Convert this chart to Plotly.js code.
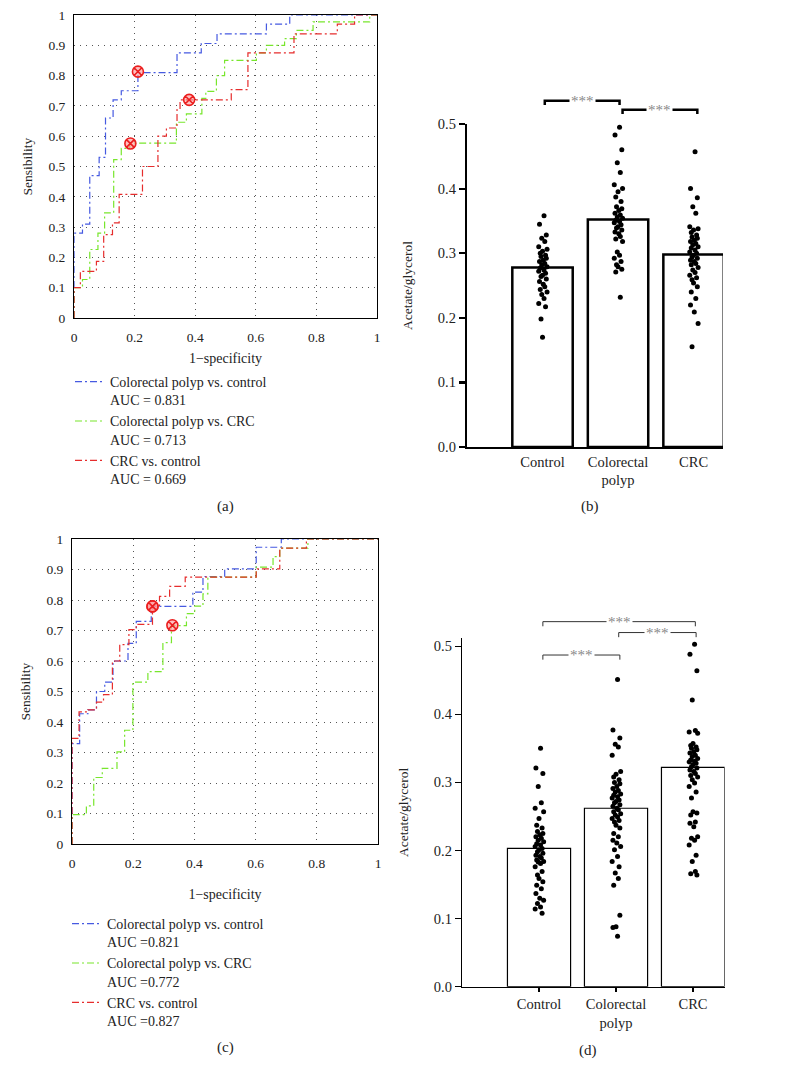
<!DOCTYPE html>
<html>
<head>
<meta charset="utf-8">
<script src="https://cdn.plot.ly/plotly-3.0.1.min.js"></script>
<style>
  html, body { margin: 0; padding: 0; background: #fff; }
  #chart { width: 785px; height: 1086px; }
</style>
</head>
<body>
<div id="chart"></div>
<script>
// ---- ROC (a) ----
const rocA_blue_x = [0, 0, 0.028, 0.052, 0.083, 0.104, 0.129, 0.156, 0.211, 0.34, 0.42, 0.472, 0.635, 0.712, 1];
const rocA_blue_y = [0, 0.28, 0.31, 0.47, 0.53, 0.66, 0.72, 0.75, 0.81, 0.875, 0.906, 0.938, 0.97, 1, 1];
const rocA_green_x = [0, 0, 0.028, 0.052, 0.079, 0.101, 0.131, 0.156, 0.184, 0.338, 0.371, 0.422, 0.435, 0.47, 0.497, 0.602, 0.635, 0.695, 0.734, 0.789, 0.976, 1];
const rocA_green_y = [0, 0.1, 0.127, 0.226, 0.28, 0.347, 0.523, 0.56, 0.577, 0.646, 0.674, 0.725, 0.748, 0.8, 0.85, 0.875, 0.9, 0.922, 0.949, 0.977, 1, 1];
const rocA_red_x = [0, 0, 0.021, 0.074, 0.098, 0.127, 0.149, 0.226, 0.277, 0.305, 0.34, 0.35, 0.519, 0.574, 0.726, 0.869, 0.926, 1];
const rocA_red_y = [0, 0.1, 0.154, 0.187, 0.275, 0.314, 0.408, 0.5, 0.6, 0.627, 0.688, 0.72, 0.754, 0.875, 0.938, 0.97, 1, 1];
const cutA_x = [0.211, 0.186, 0.38];
const cutA_y = [0.813, 0.576, 0.72];
const namesA = ['Colorectal polyp vs. control<br>AUC = 0.831', 'Colorectal polyp vs. CRC<br>AUC = 0.713', 'CRC vs. control<br>AUC = 0.669'];

// ---- ROC (c) ----
const rocC_blue_x = [0, 0, 0.025, 0.052, 0.08, 0.107, 0.134, 0.183, 0.21, 0.259, 0.395, 0.428, 0.499, 0.602, 0.684, 1];
const rocC_blue_y = [0, 0.329, 0.427, 0.44, 0.5, 0.531, 0.6, 0.658, 0.73, 0.779, 0.826, 0.877, 0.902, 0.973, 1, 1];
const rocC_green_x = [0, 0, 0.047, 0.071, 0.099, 0.147, 0.172, 0.199, 0.248, 0.297, 0.325, 0.374, 0.401, 0.428, 0.444, 0.602, 0.657, 0.679, 0.771, 1];
const rocC_green_y = [0, 0.096, 0.125, 0.218, 0.248, 0.302, 0.373, 0.531, 0.565, 0.66, 0.716, 0.755, 0.78, 0.82, 0.875, 0.908, 0.942, 0.97, 1, 1];
const rocC_red_x = [0, 0, 0.023, 0.052, 0.08, 0.103, 0.132, 0.156, 0.186, 0.21, 0.263, 0.286, 0.319, 0.37, 0.602, 0.679, 0.766, 1];
const rocC_red_y = [0, 0.346, 0.433, 0.44, 0.465, 0.49, 0.6, 0.654, 0.703, 0.72, 0.782, 0.812, 0.845, 0.875, 0.902, 0.97, 1, 1];
const cutC_x = [0.263, 0.263, 0.328];
const cutC_y = [0.779, 0.779, 0.717];
const namesC = ['Colorectal polyp vs. control<br>AUC =0.821', 'Colorectal polyp vs. CRC<br>AUC =0.772', 'CRC vs. control<br>AUC =0.827'];

// ---- bar + dots (b), (d) ----
const categories = ['Control', 'Colorectal<br>polyp', 'CRC'];
const barB = [0.278, 0.352, 0.298];
const barD = [0.203, 0.262, 0.322];

const ctrlB = [0.358, 0.345, 0.328, 0.323, 0.318, 0.310, 0.306, 0.303, 0.300, 0.297, 0.295, 0.292, 0.289, 0.287, 0.284, 0.282, 0.279, 0.277, 0.274, 0.272, 0.269, 0.266, 0.264, 0.260, 0.256, 0.252, 0.248, 0.244, 0.240, 0.236, 0.230, 0.222, 0.217, 0.198, 0.170];
const polypB = [0.495, 0.483, 0.460, 0.440, 0.425, 0.406, 0.400, 0.395, 0.387, 0.380, 0.372, 0.369, 0.366, 0.362, 0.359, 0.356, 0.354, 0.351, 0.349, 0.347, 0.344, 0.341, 0.339, 0.336, 0.333, 0.330, 0.326, 0.322, 0.318, 0.302, 0.297, 0.292, 0.287, 0.282, 0.279, 0.275, 0.271, 0.232];
const crcB = [0.457, 0.400, 0.386, 0.372, 0.362, 0.341, 0.338, 0.336, 0.332, 0.328, 0.325, 0.323, 0.320, 0.318, 0.315, 0.313, 0.310, 0.308, 0.305, 0.302, 0.300, 0.297, 0.294, 0.292, 0.289, 0.287, 0.284, 0.282, 0.278, 0.274, 0.270, 0.266, 0.262, 0.259, 0.254, 0.248, 0.240, 0.230, 0.220, 0.209, 0.191, 0.155];

const ctrlD = [0.350, 0.321, 0.313, 0.294, 0.270, 0.262, 0.257, 0.247, 0.237, 0.233, 0.228, 0.225, 0.223, 0.220, 0.218, 0.215, 0.213, 0.210, 0.208, 0.206, 0.203, 0.201, 0.198, 0.196, 0.193, 0.191, 0.189, 0.186, 0.184, 0.183, 0.181, 0.176, 0.169, 0.164, 0.159, 0.154, 0.149, 0.144, 0.137, 0.130, 0.127, 0.122, 0.117, 0.114, 0.108];
const polypD = [0.451, 0.377, 0.365, 0.356, 0.352, 0.340, 0.316, 0.312, 0.308, 0.304, 0.300, 0.298, 0.294, 0.291, 0.288, 0.286, 0.283, 0.281, 0.279, 0.277, 0.274, 0.272, 0.270, 0.267, 0.265, 0.262, 0.260, 0.257, 0.254, 0.252, 0.249, 0.247, 0.244, 0.242, 0.237, 0.233, 0.225, 0.220, 0.215, 0.211, 0.206, 0.201, 0.191, 0.184, 0.176, 0.167, 0.159, 0.149, 0.105, 0.088, 0.087, 0.074];
const crcD = [0.503, 0.488, 0.464, 0.421, 0.376, 0.374, 0.372, 0.357, 0.354, 0.352, 0.350, 0.348, 0.345, 0.343, 0.340, 0.338, 0.335, 0.333, 0.331, 0.330, 0.328, 0.326, 0.323, 0.321, 0.318, 0.316, 0.313, 0.310, 0.308, 0.304, 0.299, 0.294, 0.286, 0.277, 0.257, 0.255, 0.252, 0.242, 0.240, 0.235, 0.220, 0.218, 0.215, 0.208, 0.193, 0.184, 0.169, 0.166, 0.164];

// horizontal scatter of the dots around the category centre (category units)
const jitter = [0.02, -0.04, 0.05, -0.01, 0.03, -0.05, 0.06, 0.0, -0.03, 0.04,
  -0.02, 0.05, 0.01, -0.04, 0.03, -0.01, 0.06, -0.03, 0.02, -0.05,
  0.04, 0.0, -0.02, 0.05, -0.04, 0.01, 0.03, -0.03, 0.06, -0.01,
  0.02, -0.05, 0.04, -0.02, 0.0, 0.05, -0.03, 0.03, -0.04, 0.01,
  0.06, -0.02, 0.02, -0.05, 0.04, -0.01, 0.03, -0.03, 0.05, 0.0,
  -0.04, 0.02];

// significance brackets: left end, right end, height
const sigB_left = [0.03, 1.06], sigB_right = [1.02, 2.05], sigB_y = [0.536, 0.522];
const sigD_left = [0.05, 1.035, 0.05], sigD_right = [2.03, 2.04, 1.05], sigD_y = [0.536, 0.520, 0.487];

const serif = '"Liberation Serif", "DejaVu Serif", serif';
const W = 785, H = 1086;
const px = v => v / W;
const py = v => 1 - v / H;

const colBlue = 'rgb(70,90,225)', colGreen = 'rgb(120,230,45)', colRed = 'rgb(230,45,45)';
const rocDash = '7px,3px,2px,3px';

const traces = [];

function addRoc(xs, ys, names, cutX, cutY, xa, ya, legend) {
    const cols = [colBlue, colGreen, colRed];
    xs.forEach((x, i) => {
        traces.push({
            x: x, y: ys[i], xaxis: xa, yaxis: ya, type: 'scatter', mode: 'lines',
            line: { shape: 'hv', color: cols[i], width: 1.2, dash: rocDash },
            name: names[i], legend: legend, legendgroup: legend + i
        });
    });
    // cut-off points
    traces.push({
        x: cutX, y: cutY, xaxis: xa, yaxis: ya, type: 'scatter', mode: 'markers',
        marker: { symbol: 'circle-x', size: 11, color: 'rgba(255,150,150,0.6)', line: { color: 'rgb(235,30,30)', width: 1.6 } },
        showlegend: false, cliponaxis: false
    });
}

function addDots(groups, xa, ya) {
    groups.forEach((vals, g) => {
        traces.push({
            x: vals.map((v, i) => g + jitter[i % jitter.length]), y: vals,
            xaxis: xa, yaxis: ya, type: 'scatter', mode: 'markers',
            marker: { color: 'black', size: 5 }, showlegend: false, cliponaxis: false
        });
    });
}

addRoc([rocA_blue_x, rocA_green_x, rocA_red_x], [rocA_blue_y, rocA_green_y, rocA_red_y], namesA, cutA_x, cutA_y, 'x', 'y', 'legend');
addRoc([rocC_blue_x, rocC_green_x, rocC_red_x], [rocC_blue_y, rocC_green_y, rocC_red_y], namesC, cutC_x, cutC_y, 'x3', 'y3', 'legend2');

traces.push({
    x: [0, 1, 2], y: barB, xaxis: 'x2', yaxis: 'y2', type: 'bar', width: 0.8,
    marker: { color: 'white', line: { color: 'black', width: 2.5 } }, showlegend: false
});
addDots([ctrlB, polypB, crcB], 'x2', 'y2');

traces.push({
    x: [0, 1, 2], y: barD, xaxis: 'x4', yaxis: 'y4', type: 'bar', width: 0.82,
    marker: { color: 'white', line: { color: 'black', width: 1.2 } }, showlegend: false
});
addDots([ctrlD, polypD, crcD], 'x4', 'y4');

// axes
function rocX(dom, anchor, standoff) {
    return {
        domain: dom, anchor: anchor, range: [0, 1], tickvals: [0, 0.2, 0.4, 0.6, 0.8, 1],
        showgrid: true, gridcolor: '#555', gridwidth: 1, griddash: '1px,5px',
        showline: true, mirror: true, linecolor: 'black', linewidth: 1, zeroline: false,
        ticks: '', ticklabelstandoff: 7, layer: 'below traces', tickfont: { family: serif, size: 13.5, color: '#222' },
        title: { text: '1\u2212specificity', font: { family: serif, size: 14, color: '#222' }, standoff: standoff }
    };
}
function rocY(dom, anchor) {
    return {
        domain: dom, anchor: anchor, range: [0, 1], dtick: 0.1,
        showgrid: true, gridcolor: '#555', gridwidth: 1, griddash: '1px,5px',
        showline: true, mirror: true, linecolor: 'black', linewidth: 1, zeroline: false,
        ticks: '', ticklabelstandoff: 5, layer: 'below traces', tickfont: { family: serif, size: 13.5, color: '#222' },
        title: { text: 'Sensibility', font: { family: serif, size: 13.5, color: '#222' }, standoff: 12 }
    };
}
function barX(dom, anchor, range, lw, tl) {
    return {
        domain: dom, anchor: anchor, range: range, tickvals: [0, 1, 2], ticktext: categories,
        showgrid: false, zeroline: false, showline: true, linecolor: 'black', linewidth: lw,
        ticks: tl > 0 ? 'outside' : '', ticklen: tl, tickwidth: lw, tickcolor: 'black',
        tickfont: { family: serif, size: 14.5, color: '#222' }
    };
}
function barY(dom, anchor, range, lw) {
    return {
        domain: dom, anchor: anchor, range: range, tickvals: [0, 0.1, 0.2, 0.3, 0.4, 0.5], tickformat: '.1f',
        showgrid: false, zeroline: false, showline: true, linecolor: 'black', linewidth: lw,
        ticks: 'outside', ticklen: 6, tickwidth: lw, tickcolor: 'black',
        tickfont: { family: serif, size: 14.5, color: '#222' },
        title: { text: 'Acetate/glycerol', font: { family: serif, size: 13.5, color: '#222' }, standoff: 22 }
    };
}

const axB = barY([py(447), py(124)], 'x2', [0, 0.5], 2.2);
const axD = barY([py(986.7), py(638)], 'x4', [0, 0.512], 1.2);

// value on a y axis -> paper fraction (brackets sit above the axis range)
function toPaper(ax, v) {
    return ax.domain[0] + (v - ax.range[0]) / (ax.range[1] - ax.range[0]) * (ax.domain[1] - ax.domain[0]);
}

const shapes = [];
const annotations = [];

function addSig(lefts, rights, ys, xa, ax, drop, lw, col, fs) {
    ys.forEach((y, i) => {
        const top = toPaper(ax, y), bot = toPaper(ax, y - drop);
        shapes.push({
            type: 'path', xref: xa, yref: 'paper',
            path: `M ${lefts[i]} ${bot} L ${lefts[i]} ${top} L ${rights[i]} ${top} L ${rights[i]} ${bot}`,
            line: { color: col, width: lw }
        });
        annotations.push({
            xref: xa, yref: 'paper', x: (lefts[i] + rights[i]) / 2, y: top, text: '***', showarrow: false,
            font: { family: serif, size: fs, color: '#888' }, bgcolor: 'white', borderpad: 1, yanchor: 'middle'
        });
    });
}
addSig(sigB_left, sigB_right, sigB_y, 'x2', axB, 0.0065, 2.5, 'black', 15);
addSig(sigD_left, sigD_right, sigD_y, 'x4', axD, 0.0068, 1, '#333', 15);

[['(a)', 225, 507], ['(b)', 590, 507], ['(c)', 225, 1047], ['(d)', 588, 1050]].forEach(p => {
    annotations.push({
        xref: 'paper', yref: 'paper', x: px(p[1]), y: py(p[2]), text: p[0], showarrow: false,
        xanchor: 'center', yanchor: 'middle', font: { family: serif, size: 15, color: '#222' }
    });
});

const legendStyle = {
    xanchor: 'left', yanchor: 'top', valign: 'top', itemwidth: 30, tracegroupgap: 0,
    font: { family: serif, size: 14, color: '#222' }, bgcolor: 'rgba(0,0,0,0)'
};

const layout = {
    width: W, height: H,
    margin: { l: 0, r: 0, t: 0, b: 0 },
    paper_bgcolor: 'white', plot_bgcolor: 'rgba(0,0,0,0)',
    showlegend: true,
    xaxis: rocX([px(74), px(377)], 'y', 8),
    yaxis: rocY([py(318), py(15)], 'x'),
    xaxis3: rocX([px(72), px(378)], 'y3', 18),
    yaxis3: rocY([py(844), py(539)], 'x3'),
    xaxis2: barX([px(467), px(723)], 'y2', [-1, 2.39], 2.2, 0),
    yaxis2: axB,
    xaxis4: barX([px(462), px(724.6)], 'y4', [-1, 2.41], 1.2, 4),
    yaxis4: axD,
    legend: { ...legendStyle, x: px(70), y: py(366) },
    legend2: { ...legendStyle, x: px(67), y: py(908) },
    shapes: shapes,
    annotations: annotations
};

Plotly.newPlot('chart', traces, layout, { displayModeBar: false, staticPlot: true });
</script>
</body>
</html>
